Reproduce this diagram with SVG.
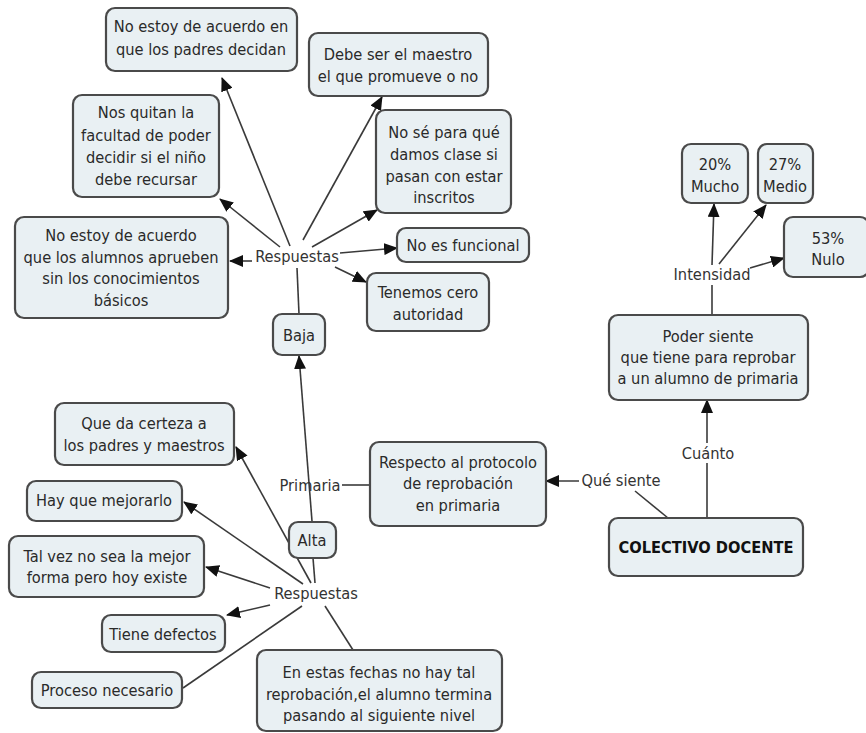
<svg xmlns="http://www.w3.org/2000/svg" width="866" height="733" viewBox="0 0 866 733">
<defs>
<marker id="ah" markerUnits="userSpaceOnUse" markerWidth="14" markerHeight="12" refX="13" refY="6" orient="auto">
<path d="M0,0 L14,6 L0,12 Z" fill="#111"/>
</marker>
<style>
.b{fill:#e9f0f3;stroke:#4a4a4a;stroke-width:2.2}
.t{font-family:"DejaVu Sans Condensed","DejaVu Sans",sans-serif;font-size:16.3px;fill:#2a2a2a;text-anchor:middle;dominant-baseline:central}
.l{font-family:"DejaVu Sans Condensed","DejaVu Sans",sans-serif;font-size:16.3px;fill:#333;text-anchor:middle;dominant-baseline:central}
.c line{stroke:#3a3a3a;stroke-width:1.6}
.a{marker-end:url(#ah)}
</style>
</defs>
<rect width="866" height="733" fill="#fff"/>
<g class="c" id="connectors">
<line x1="297" y1="268" x2="299" y2="314"/>
<line class="a" x1="290" y1="246" x2="222" y2="78"/>
<line class="a" x1="280" y1="247" x2="220" y2="199"/>
<line class="a" x1="252" y1="261" x2="230" y2="261"/>
<line class="a" x1="303" y1="240" x2="382" y2="97"/>
<line class="a" x1="312" y1="247" x2="377" y2="210"/>
<line class="a" x1="340" y1="253" x2="397" y2="248"/>
<line class="a" x1="335" y1="267" x2="366" y2="282"/>
<line class="a" x1="312" y1="521" x2="299" y2="356"/>
<line x1="370" y1="485" x2="342" y2="485"/>
<line x1="313" y1="558" x2="315" y2="583"/>
<line class="a" x1="311" y1="583" x2="236" y2="447"/>
<line class="a" x1="303" y1="584" x2="184" y2="502"/>
<line class="a" x1="270" y1="588" x2="206" y2="567"/>
<line class="a" x1="270" y1="605" x2="227" y2="615"/>
<line x1="302" y1="606" x2="183" y2="688"/>
<line x1="325" y1="606" x2="353" y2="650"/>
<line x1="712" y1="315" x2="712" y2="285"/>
<line class="a" x1="712" y1="265" x2="714" y2="204"/>
<line class="a" x1="719" y1="264" x2="766" y2="205"/>
<line class="a" x1="750" y1="268" x2="784" y2="258"/>
<line x1="707" y1="518" x2="707" y2="463"/>
<line class="a" x1="707" y1="443" x2="707" y2="400"/>
<line x1="668" y1="518" x2="635" y2="491"/>
<line class="a" x1="579" y1="481" x2="546" y2="481"/>
</g>
<g id="lbl-respuestas-top"><text class="l" x="297" y="256">Respuestas</text></g>
<g id="lbl-respuestas-bottom"><text class="l" x="316" y="593">Respuestas</text></g>
<g id="lbl-primaria"><text class="l" x="310" y="485">Primaria</text></g>
<g id="lbl-intensidad"><text class="l" x="712" y="274">Intensidad</text></g>
<g id="lbl-cuanto"><text class="l" x="708" y="453">Cuánto</text></g>
<g id="lbl-que-siente"><text class="l" x="621" y="480">Qué siente</text></g>

<g id="n1"><rect class="b" x="106" y="8" width="191" height="63" rx="9"/>
<text class="t" x="201" y="26">No estoy de acuerdo en</text><text class="t" x="201" y="49">que los padres decidan</text></g>
<g id="n2"><rect class="b" x="73" y="95" width="146" height="102" rx="9"/>
<text class="t" x="146" y="112">Nos quitan la</text><text class="t" x="146" y="135">facultad de poder</text><text class="t" x="146" y="157">decidir si el niño</text><text class="t" x="146" y="179">debe recursar</text></g>
<g id="n3"><rect class="b" x="15" y="217" width="213" height="101" rx="9"/>
<text class="t" x="121" y="235">No estoy de acuerdo</text><text class="t" x="121" y="257">que los alumnos aprueben</text><text class="t" x="121" y="278">sin los conocimientos</text><text class="t" x="121" y="300">básicos</text></g>
<g id="n4"><rect class="b" x="309" y="33" width="179" height="63" rx="9"/>
<text class="t" x="398" y="54">Debe ser el maestro</text><text class="t" x="398" y="76">el que promueve o no</text></g>
<g id="n5"><rect class="b" x="376" y="110" width="135" height="103" rx="9"/>
<text class="t" x="444" y="132">No sé para qué</text><text class="t" x="444" y="154">damos clase si</text><text class="t" x="444" y="176">pasan con estar</text><text class="t" x="444" y="197">inscritos</text></g>
<g id="n6"><rect class="b" x="397" y="228" width="132" height="34" rx="9"/>
<text class="t" x="463" y="245">No es funcional</text></g>
<g id="n7"><rect class="b" x="367" y="273" width="122" height="58" rx="9"/>
<text class="t" x="428" y="292">Tenemos cero</text><text class="t" x="428" y="314">autoridad</text></g>
<g id="n-baja"><rect class="b" x="273" y="314" width="52" height="41" rx="9"/>
<text class="t" x="299" y="335">Baja</text></g>
<g id="n-mucho"><rect class="b" x="682" y="144" width="66" height="59" rx="9"/>
<text class="t" x="715" y="164">20%</text><text class="t" x="715" y="186">Mucho</text></g>
<g id="n-medio"><rect class="b" x="758" y="144" width="55" height="59" rx="9"/>
<text class="t" x="785" y="164">27%</text><text class="t" x="785" y="186">Medio</text></g>
<g id="n-nulo"><rect class="b" x="784" y="217" width="85" height="60" rx="9"/>
<text class="t" x="828" y="238">53%</text><text class="t" x="828" y="259">Nulo</text></g>
<g id="n-poder"><rect class="b" x="609" y="315" width="199" height="85" rx="9"/>
<text class="t" x="708" y="336">Poder siente</text><text class="t" x="708" y="357">que tiene para reprobar</text><text class="t" x="708" y="378">a un alumno de primaria</text></g>
<g id="n-respecto"><rect class="b" x="370" y="442" width="176" height="84" rx="9"/>
<text class="t" x="458" y="462">Respecto al protocolo</text><text class="t" x="458" y="483">de reprobación</text><text class="t" x="458" y="505">en primaria</text></g>
<g id="n-colectivo"><rect class="b" x="609" y="518" width="194" height="58" rx="9"/>
<text class="t" x="706" y="547" style="font-weight:bold;fill:#111">COLECTIVO DOCENTE</text></g>
<g id="n-certeza"><rect class="b" x="55" y="403" width="179" height="62" rx="9"/>
<text class="t" x="144" y="423">Que da certeza a</text><text class="t" x="144" y="445">los padres y maestros</text></g>
<g id="n-mejorarlo"><rect class="b" x="27" y="481" width="155" height="40" rx="9"/>
<text class="t" x="104" y="500">Hay que mejorarlo</text></g>
<g id="n-talvez"><rect class="b" x="9" y="536" width="195" height="61" rx="9"/>
<text class="t" x="107" y="556">Tal vez no sea la mejor</text><text class="t" x="107" y="577">forma pero hoy existe</text></g>
<g id="n-alta"><rect class="b" x="289" y="522" width="47" height="36" rx="9"/>
<text class="t" x="312" y="540">Alta</text></g>
<g id="n-defectos"><rect class="b" x="102" y="615" width="123" height="37" rx="9"/>
<text class="t" x="163" y="634">Tiene defectos</text></g>
<g id="n-proceso"><rect class="b" x="32" y="672" width="150" height="36" rx="9"/>
<text class="t" x="107" y="690">Proceso necesario</text></g>
<g id="n-fechas"><rect class="b" x="257" y="650" width="245" height="81" rx="9"/>
<text class="t" x="379" y="672">En estas fechas no hay tal</text><text class="t" x="379" y="694">reprobación,el alumno termina</text><text class="t" x="379" y="715">pasando al siguiente nivel</text></g>
</svg>
